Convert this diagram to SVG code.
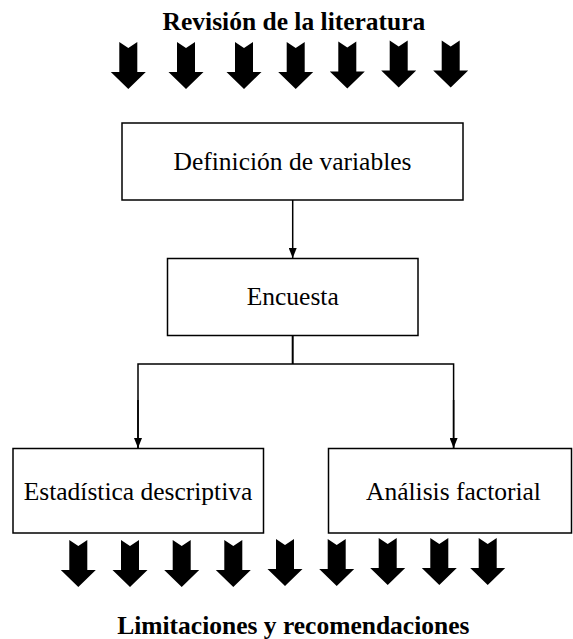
<svg xmlns="http://www.w3.org/2000/svg" xmlns:xlink="http://www.w3.org/1999/xlink" width="573" height="639" viewBox="0 0 573 639">
<style>
.box{fill:#fff;stroke:#000;stroke-width:1.5}
.lbl{font-family:"Liberation Serif","Times New Roman",serif;font-size:25.5px;fill:#000;text-anchor:middle}
.ttl{font-family:"Liberation Serif","Times New Roman",serif;font-size:25.5px;font-weight:bold;fill:#000;text-anchor:middle}
.con{fill:none;stroke:#000;stroke-width:1.5}
.big{fill:#000}
</style>
<defs>
<marker id="ah" viewBox="0 0 10 8" refX="10" refY="4" markerWidth="10" markerHeight="8" markerUnits="userSpaceOnUse" orient="auto">
<path d="M0,0 L10,4 L0,8 Z" fill="#000"/>
</marker>
<path id="bigArrow" d="M-9,0 L0,6 L9,0 L9,30 L17.5,30 L0,47 L-17.5,30 L-9,30 Z"/>
</defs>
<rect width="573" height="639" fill="#fff"/>

<g id="title-top">
<text class="ttl" x="294" y="30">Revisión de la literatura</text>
</g>
<g id="arrows-top" class="big">
<use xlink:href="#bigArrow" transform="translate(128.3,42)"/>
<use xlink:href="#bigArrow" transform="translate(186,42)"/>
<use xlink:href="#bigArrow" transform="translate(244,42)"/>
<use xlink:href="#bigArrow" transform="translate(295.7,42)"/>
<use xlink:href="#bigArrow" transform="translate(347.3,41.5)"/>
<use xlink:href="#bigArrow" transform="translate(398.7,40.5)"/>
<use xlink:href="#bigArrow" transform="translate(450.7,40.5)"/>
</g>

<g id="node-definicion">
<rect class="box" x="122" y="123" width="341" height="77"/>
<text class="lbl" x="292.5" y="170">Definición de variables</text>
</g>
<g id="node-encuesta">
<rect class="box" x="167.5" y="258.5" width="250.5" height="77"/>
<text class="lbl" x="292.7" y="305">Encuesta</text>
</g>
<g id="node-estadistica">
<rect class="box" x="13" y="448.5" width="250.5" height="84.5"/>
<text class="lbl" x="138" y="500">Estadística descriptiva</text>
</g>
<g id="node-analisis">
<rect class="box" x="328.5" y="448.5" width="243" height="84.5"/>
<text class="lbl" x="453.5" y="500">Análisis factorial</text>
</g>

<g id="connectors">
<line class="con" x1="292.7" y1="200" x2="292.7" y2="258" marker-end="url(#ah)"/>
<line class="con" x1="292.7" y1="335.5" x2="292.7" y2="364" style="stroke-width:2"/>
<polyline class="con" points="138,448 138,364 453.6,364 453.6,448" style="marker-end:none"/>
<line class="con" x1="138" y1="400" x2="138" y2="448" marker-end="url(#ah)"/>
<line class="con" x1="453.6" y1="400" x2="453.6" y2="448" marker-end="url(#ah)"/>
</g>

<g id="arrows-bottom" class="big">
<use xlink:href="#bigArrow" transform="translate(78.3,540)"/>
<use xlink:href="#bigArrow" transform="translate(130,540)"/>
<use xlink:href="#bigArrow" transform="translate(181.7,540)"/>
<use xlink:href="#bigArrow" transform="translate(233.3,540)"/>
<use xlink:href="#bigArrow" transform="translate(285,539)"/>
<use xlink:href="#bigArrow" transform="translate(336.7,539)"/>
<use xlink:href="#bigArrow" transform="translate(387.7,538)"/>
<use xlink:href="#bigArrow" transform="translate(439.3,538)"/>
<use xlink:href="#bigArrow" transform="translate(487.7,538)"/>
</g>
<g id="title-bottom">
<text class="ttl" x="293.3" y="634">Limitaciones y recomendaciones</text>
</g>
</svg>
